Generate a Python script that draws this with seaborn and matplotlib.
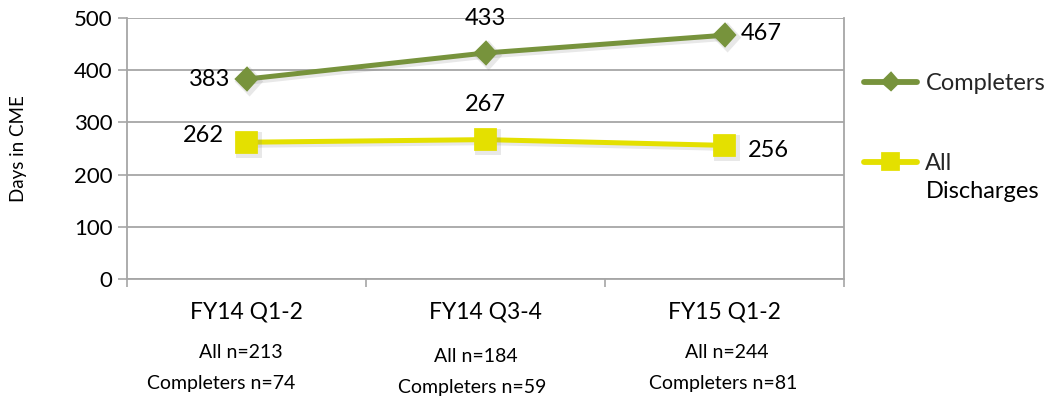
import matplotlib
matplotlib.use("Agg")
import matplotlib.pyplot as plt
import matplotlib.patheffects as pe
from matplotlib.text import Annotation
import seaborn as sns
import pandas as pd

# Data
periods = ["FY14 Q1-2", "FY14 Q3-4", "FY15 Q1-2"]
completers = [383, 433, 467]
all_discharges = [262, 267, 256]
n_all = [213, 184, 244]
n_completers = [74, 59, 81]

GREEN = "#77933C"
YELLOW = "#E4E000"
GRID = "#A6A6A6"
FONT = "Lato"

sns.set_theme(style="white")
plt.rcParams["font.family"] = [FONT, "DejaVu Sans"]

fig = plt.figure(figsize=(10.52, 3.96), dpi=100)
ax = fig.add_axes([127 / 1052, 1 - 279 / 396, 717 / 1052, 261 / 396])

df = pd.DataFrame({
    "period": periods * 2,
    "days": completers + all_discharges,
    "series": ["Completers"] * 3 + ["All Discharges"] * 3,
})

shadow = [pe.SimpleLineShadow(offset=(1.5, -1.5), shadow_color="gray", alpha=0.18, linewidth=5), pe.Normal()]

sns.pointplot(data=df[df.series == "Completers"], x="period", y="days", ax=ax,
              color=GREEN, marker="D", markersize=10, linewidth=3.6,
              errorbar=None, label="Completers")
sns.pointplot(data=df[df.series == "All Discharges"], x="period", y="days", ax=ax,
              color=YELLOW, marker="s", markersize=14, linewidth=3.6,
              errorbar=None, label="All")
for ln in ax.lines:
    ln.set_path_effects(shadow)
if ax.get_legend() is not None:
    ax.get_legend().remove()

# Axes styling
ax.set_ylim(0, 500)
ax.set_yticks(range(0, 501, 100))
ax.set_xlim(-0.5, 2.5)
ax.set_xticks([-0.5, 0.5, 1.5, 2.5])
ax.set_xticklabels([])
ax.set_xticks([0, 1, 2], minor=True)
ax.set_xticklabels(periods, minor=True)
ax.tick_params(axis="x", which="minor", length=0, pad=16, labelsize=16.5)
ax.tick_params(axis="x", which="major", length=6, width=1.2, color=GRID, direction="out", bottom=True)
ax.tick_params(axis="y", length=6.5, width=1.2, color=GRID, direction="out", left=True, pad=4, labelsize=16)
ax.yaxis.grid(True, color=GRID, linewidth=1.3)
ax.xaxis.grid(False)
ax.set_axisbelow(True)
for side in ["left", "bottom", "right"]:
    ax.spines[side].set_visible(True)
    ax.spines[side].set_color(GRID)
    ax.spines[side].set_linewidth(1.3)
ax.spines["top"].set_visible(False)
ax.set_xlabel("")
ax.set_ylabel("Days in CME", fontsize=13.5, color="black")
ax.yaxis.set_label_coords(-0.139, 0.5)
for t in ax.get_xticklabels(minor=True) + ax.get_yticklabels():
    t.set_color("black")

# Value labels
label_offsets_c = [((-12, 0), "right"), ((0, 25), "center"), ((12, 1.5), "left")]
label_offsets_a = [((-16, 5), "right"), ((0, 25), "center"), ((17, -3.5), "left")]
for i, v in enumerate(completers):
    off, ha = label_offsets_c[i]
    ax.annotate(str(v), (i, v), xytext=off, textcoords="offset points",
                ha=ha, va="center", fontsize=17, color="black")
for i, v in enumerate(all_discharges):
    off, ha = label_offsets_a[i]
    ax.annotate(str(v), (i, v), xytext=off, textcoords="offset points",
                ha=ha, va="center", fontsize=17, color="black")

# Sample sizes beneath each period
n_line_offsets = [(-6, -25), (-10, -13), (2, -1)]
line_drop = [0, 4, 0]
for i in range(3):
    dx1, dx2 = n_line_offsets[i]
    ax.annotate(f"All n={n_all[i]}", (i, 0), xycoords=("data", "axes fraction"),
                xytext=(dx1, -74 - line_drop[i]), textcoords="offset pixels",
                ha="center", va="center", fontsize=14, color="black")
    ax.annotate(f"Completers n={n_completers[i]}", (i, 0), xycoords=("data", "axes fraction"),
                xytext=(dx2, -104 - line_drop[i]), textcoords="offset pixels",
                ha="center", va="center", fontsize=14, color="black")

# Legend
leg = fig.legend(loc="upper left", bbox_to_anchor=(864 / 1052, 1 - 73 / 396),
                 frameon=False, fontsize=17, handlelength=2.25, handletextpad=0.35,
                 labelspacing=2.5, borderpad=0, borderaxespad=0, markerscale=0.75)
for h in leg.legend_handles:
    h.set_path_effects([pe.Normal()])
    h.set_linewidth(4.2)
second_line = Annotation("Discharges", (0, 0), xycoords=leg.get_texts()[1], xytext=(0, -5),
                         textcoords="offset points", ha="left", va="top", fontsize=17,
                         color="black", zorder=10)
fig.add_artist(second_line)

fig.savefig("out.png", dpi=100)
